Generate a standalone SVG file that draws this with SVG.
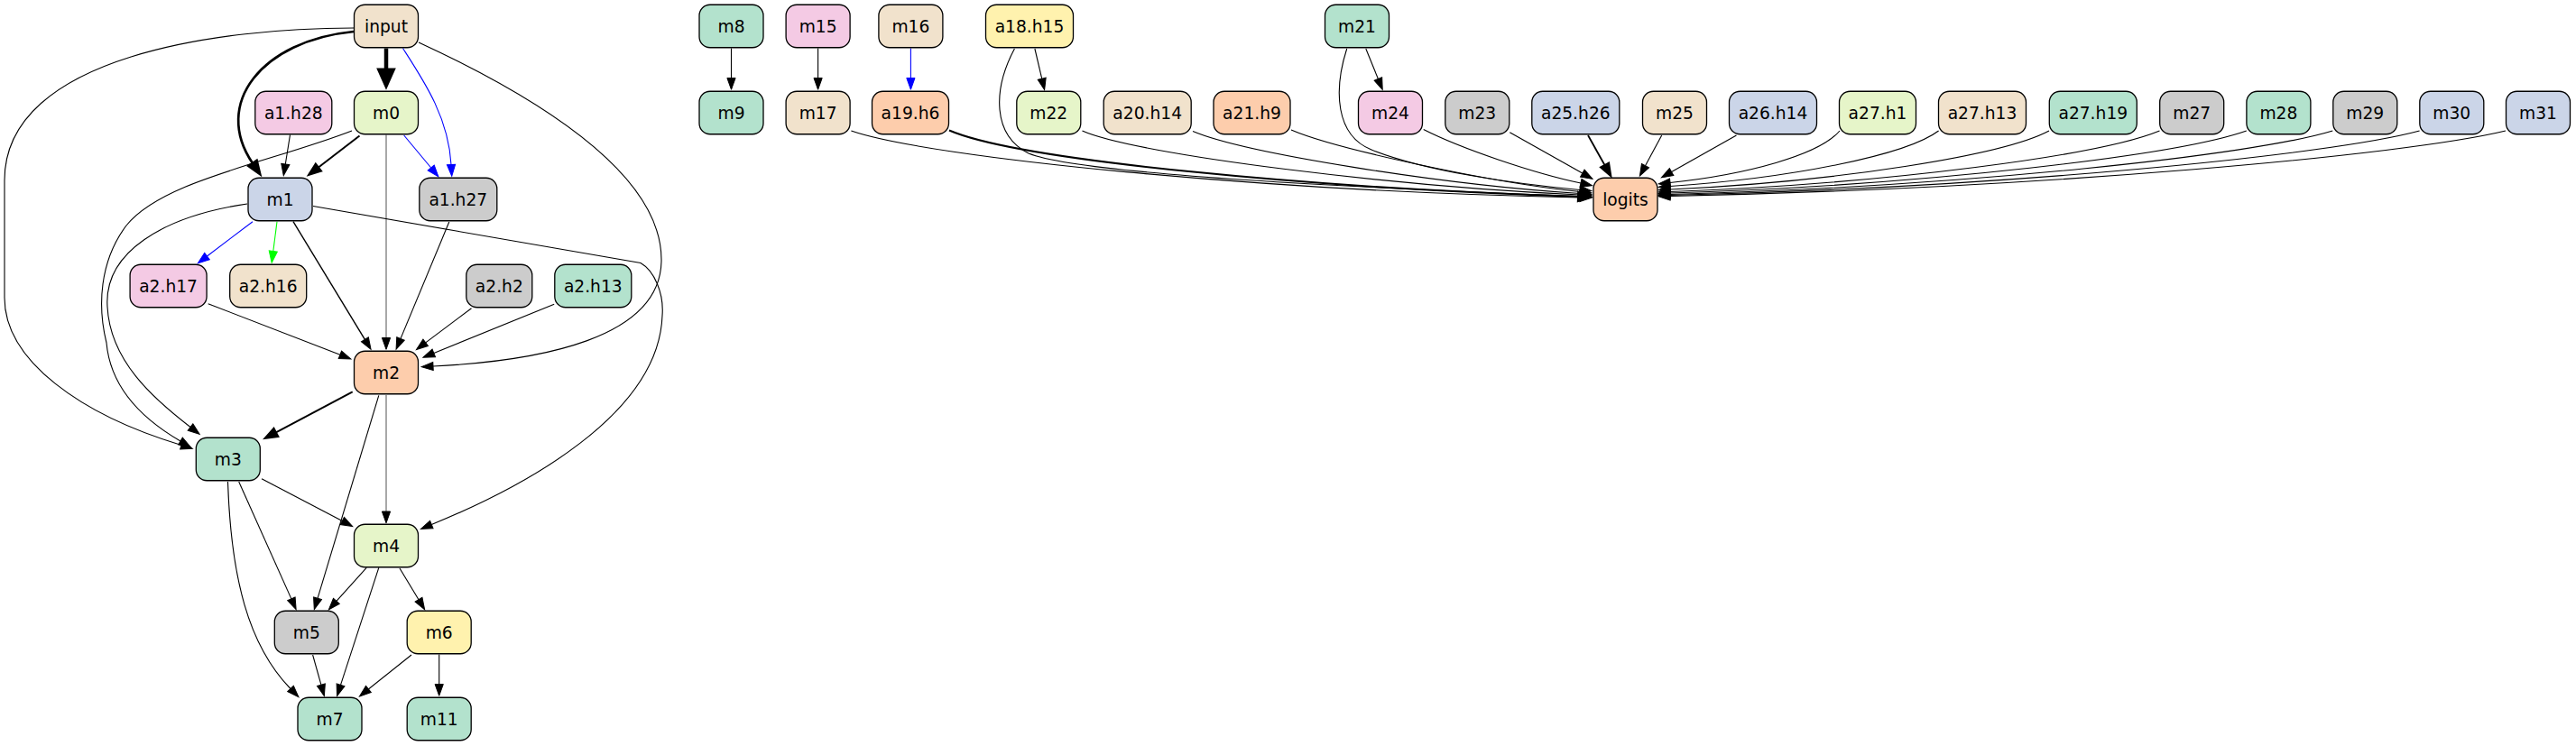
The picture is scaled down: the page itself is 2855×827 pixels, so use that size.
<svg xmlns="http://www.w3.org/2000/svg" width="2855" height="827" viewBox="0 0 2855 827">
<style>
.node rect{stroke:#000;stroke-width:1.3}
.node text{font-family:"DejaVu Sans","Liberation Sans",sans-serif;font-size:18.67px;text-anchor:middle;fill:#000}
.tan{fill:#f1e2cc}.lg{fill:#e6f5c9}.pk{fill:#f4cae4}.bl{fill:#cbd5e8}.gr{fill:#cccccc}.gn{fill:#b3e2cd}.or{fill:#fdcdac}.ye{fill:#fff2ae}
#edges path{fill:none;stroke:#000;stroke-width:1.1}
#edges .e{marker-end:url(#ah)}
#edges .blue{stroke:#0000ff;marker-end:url(#ahb)}
#edges .green{stroke:#00ff00;marker-end:url(#ahg)}
#edges .gray{stroke:#999999;stroke-width:1.7;marker-end:url(#ah)}
#edges .w2{stroke-width:2;marker-end:url(#ah2)}
#edges .w3{stroke-width:2.7;marker-end:url(#ah3)}
#edges .w5{stroke-width:4.5;marker-end:url(#ah5)}
</style>
<defs>
<marker id="ah" markerUnits="userSpaceOnUse" orient="auto" refX="0" refY="0" markerWidth="40" markerHeight="40" overflow="visible"><path d="M0,-4.6 L12.8,0 L0,4.6 Z" fill="#000" stroke="#000" stroke-width="1"/></marker>
<marker id="ahb" markerUnits="userSpaceOnUse" orient="auto" refX="0" refY="0" markerWidth="40" markerHeight="40" overflow="visible"><path d="M0,-4.6 L12.8,0 L0,4.6 Z" fill="#0000ff" stroke="#0000ff" stroke-width="1"/></marker>
<marker id="ahg" markerUnits="userSpaceOnUse" orient="auto" refX="0" refY="0" markerWidth="40" markerHeight="40" overflow="visible"><path d="M0,-4.6 L12.8,0 L0,4.6 Z" fill="#00ff00" stroke="#00ff00" stroke-width="1"/></marker>
<marker id="ah2" markerUnits="userSpaceOnUse" orient="auto" refX="0" refY="0" markerWidth="40" markerHeight="40" overflow="visible"><path d="M0,-5.2 L14,0 L0,5.2 Z" fill="#000" stroke="#000" stroke-width="2"/></marker>
<marker id="ah3" markerUnits="userSpaceOnUse" orient="auto" refX="0" refY="0" markerWidth="40" markerHeight="40" overflow="visible"><path d="M0,-5.5 L14.5,0 L0,5.5 Z" fill="#000" stroke="#000" stroke-width="2.7"/></marker>
<marker id="ah5" markerUnits="userSpaceOnUse" orient="auto" refX="0" refY="0" markerWidth="40" markerHeight="40" overflow="visible"><path d="M0,-8.5 L19,0 L0,8.5 Z" fill="#000" stroke="#000" stroke-width="3"/></marker>
</defs>
<rect width="2855" height="827" fill="#fff"/>
<g id="edges">
<path class="w5" d="M428,53.5 L428,77"/>
<path class="w3" d="M392,35 C290,45 235,115 280,181"/>
<path class="blue" d="M446.5,53.5 C470,90 497,130 500,182.5"/>
<path class="e" d="M392,31 C250,31 5,60 5,200 L5,330 C5,400 90,460 201,493.5"/>
<path class="e" d="M464,47 C600,110 735,195 733,290 C731,375 600,400 480,406"/>
<path class="e" d="M321.5,149.5 L316.3,182"/>
<path class="w2" d="M398.5,150.5 L353,185.5"/>
<path class="blue" d="M447.7,150 L477.7,186"/>
<path class="gray" d="M428,149.5 L428,374.5"/>
<path class="e" d="M390,145 C300,180 180,200 140,250 C110,290 108,340 118,380 C122,425 150,460 200,489"/>
<path class="e" d="M274,226 C180,240 115,280 119,340 C122,400 170,442 211,473.5"/>
<path class="blue" d="M280,245.7 L229.5,284"/>
<path class="green" d="M307,245.7 L302.8,278.5"/>
<path class="e" style="stroke-width:1.4" d="M325,245.7 L404.4,376.3"/>
<path class="e" d="M347,228.5 L710,291.5 C725,300 736,325 734,350 C730,460 580,540 478.3,581.5"/>
<path class="e" d="M497.8,246 L444,375.4"/>
<path class="e" d="M230.7,336.7 L376.9,393.3"/>
<path class="e" d="M522.5,341.7 L471.7,379.9"/>
<path class="e" d="M614.2,337.3 L480.8,391.4"/>
<path class="w2" d="M390.7,434.3 L305.9,479.4"/>
<path class="gray" d="M428,438 L428,567"/>
<path class="e" d="M419.8,438.3 L352,663.3"/>
<path class="e" d="M290,530.7 L379.3,577.5"/>
<path class="e" d="M264.7,534 L322.9,663.9"/>
<path class="e" d="M252.5,534 C256,640 275,715 322,763.5"/>
<path class="e" d="M406.2,629.3 L372.9,666.3"/>
<path class="e" d="M419.8,629.3 L377.5,759.4"/>
<path class="e" d="M443,630 L464,664.7"/>
<path class="e" d="M346.6,726 L355.9,759.2"/>
<path class="e" d="M456,726 L408.4,764"/>
<path class="e" d="M486.7,725.5 L486.7,758.5"/>
<path class="e" d="M810.5,53.5 L810.5,86.5"/>
<path class="e" d="M906.6,53.5 L906.6,86.5"/>
<path class="blue" d="M1009.4,53.5 L1009.4,86.5"/>
<path class="e" d="M1146.9,54 L1154.7,87.2"/>
<path class="e" d="M1513.8,54 L1527.4,87.5"/>
<path class="e" d="M1124.4,54 C1100,100 1100,150 1140,170 C1200,195 1550,210 1751,217.5"/>
<path class="e" d="M943.4,145 C1030,175 1400,212 1751,219"/>
<path class="w2" d="M1052,144.5 C1130,178 1450,208 1749,218"/>
<path class="e" d="M1199.5,145 C1260,172 1550,207 1751,216"/>
<path class="e" d="M1322,145.5 C1380,170 1600,205 1751,214.5"/>
<path class="e" d="M1431,144 C1480,165 1650,202 1751,212.5"/>
<path class="e" d="M1492.7,54 C1478,100 1480,150 1520,166 C1580,190 1680,204 1751,210.5"/>
<path class="e" d="M1577.7,143.5 C1620,165 1700,192 1752,203"/>
<path class="e" d="M1673.3,146.7 L1753.8,192.1"/>
<path class="w2" style="stroke-width:1.8" d="M1760,150 L1778.5,183"/>
<path class="e" d="M1841.7,150 L1823.5,183.7"/>
<path class="e" d="M1924.5,150 L1852.6,190.6"/>
<path class="e" d="M2039,145 C2016.4,172 1935.6,193.5 1851,202.5"/>
<path class="e" d="M2148.6,145 C2112.9,172 1985,197.5 1851,206.5"/>
<path class="e" d="M2271,145 C2220.6,172 2040,201 1851,210"/>
<path class="e" d="M2393.5,145 C2328.4,172 2095.1,203.5 1851,212.5"/>
<path class="e" d="M2489.8,145 C2413.1,172 2138.5,205 1851,214"/>
<path class="e" d="M2585.3,145 C2497.2,172 2181.4,206.5 1851,215.5"/>
<path class="e" d="M2681.6,145 C2581.9,172 2224.8,207.5 1851,216.5"/>
<path class="e" d="M2777,145 C2665.9,172 2267.7,208.5 1851,217.5"/>
</g>
<g id="n-input" class="node"><rect class="tan" x="392.5" y="5.25" width="71" height="47.5" rx="12"/><text x="428" y="35.5">input</text></g>
<g id="n-m0" class="node"><rect class="lg" x="392.5" y="101.25" width="71" height="47.5" rx="12"/><text x="428" y="131.5">m0</text></g>
<g id="n-a1h28" class="node"><rect class="pk" x="282.8" y="101.25" width="85" height="47.5" rx="12"/><text x="325.3" y="131.5">a1.h28</text></g>
<g id="n-m1" class="node"><rect class="bl" x="275" y="197.25" width="71" height="47.5" rx="12"/><text x="310.5" y="227.5">m1</text></g>
<g id="n-a1h27" class="node"><rect class="gr" x="464.8" y="197.25" width="86" height="47.5" rx="12"/><text x="507.8" y="227.5">a1.h27</text></g>
<g id="n-a2h17" class="node"><rect class="pk" x="144.1" y="293.25" width="85" height="47.5" rx="12"/><text x="186.6" y="323.5">a2.h17</text></g>
<g id="n-a2h16" class="node"><rect class="tan" x="254.7" y="293.25" width="85" height="47.5" rx="12"/><text x="297.2" y="323.5">a2.h16</text></g>
<g id="n-a2h2" class="node"><rect class="gr" x="516.8" y="293.25" width="73" height="47.5" rx="12"/><text x="553.3" y="323.5">a2.h2</text></g>
<g id="n-a2h13" class="node"><rect class="gn" x="614.8" y="293.25" width="85" height="47.5" rx="12"/><text x="657.3" y="323.5">a2.h13</text></g>
<g id="n-m2" class="node"><rect class="or" x="392.5" y="389.25" width="71" height="47.5" rx="12"/><text x="428" y="419.5">m2</text></g>
<g id="n-m3" class="node"><rect class="gn" x="217.3" y="485.25" width="71" height="47.5" rx="12"/><text x="252.8" y="515.5">m3</text></g>
<g id="n-m4" class="node"><rect class="lg" x="392.5" y="581.25" width="71" height="47.5" rx="12"/><text x="428" y="611.5">m4</text></g>
<g id="n-m5" class="node"><rect class="gr" x="304.3" y="677.25" width="71" height="47.5" rx="12"/><text x="339.8" y="707.5">m5</text></g>
<g id="n-m6" class="node"><rect class="ye" x="451.2" y="677.25" width="71" height="47.5" rx="12"/><text x="486.7" y="707.5">m6</text></g>
<g id="n-m7" class="node"><rect class="gn" x="330" y="773.25" width="71" height="47.5" rx="12"/><text x="365.5" y="803.5">m7</text></g>
<g id="n-m11" class="node"><rect class="gn" x="451.2" y="773.25" width="71" height="47.5" rx="12"/><text x="486.7" y="803.5">m11</text></g>
<g id="n-m8" class="node"><rect class="gn" x="775" y="5.25" width="71" height="47.5" rx="12"/><text x="810.5" y="35.5">m8</text></g>
<g id="n-m9" class="node"><rect class="gn" x="775" y="101.25" width="71" height="47.5" rx="12"/><text x="810.5" y="131.5">m9</text></g>
<g id="n-m15" class="node"><rect class="pk" x="871.1" y="5.25" width="71" height="47.5" rx="12"/><text x="906.6" y="35.5">m15</text></g>
<g id="n-m17" class="node"><rect class="tan" x="871.1" y="101.25" width="71" height="47.5" rx="12"/><text x="906.6" y="131.5">m17</text></g>
<g id="n-m16" class="node"><rect class="tan" x="973.9" y="5.25" width="71" height="47.5" rx="12"/><text x="1009.4" y="35.5">m16</text></g>
<g id="n-a19h6" class="node"><rect class="or" x="966.5" y="101.25" width="85" height="47.5" rx="12"/><text x="1009" y="131.5">a19.h6</text></g>
<g id="n-a18h15" class="node"><rect class="ye" x="1092.5" y="5.25" width="97" height="47.5" rx="12"/><text x="1141" y="35.5">a18.h15</text></g>
<g id="n-m21" class="node"><rect class="gn" x="1468.5" y="5.25" width="71" height="47.5" rx="12"/><text x="1504" y="35.5">m21</text></g>
<g id="n-m22" class="node"><rect class="lg" x="1126.8" y="101.25" width="71" height="47.5" rx="12"/><text x="1162.3" y="131.5">m22</text></g>
<g id="n-a20h14" class="node"><rect class="tan" x="1223.2" y="101.25" width="97" height="47.5" rx="12"/><text x="1271.7" y="131.5">a20.h14</text></g>
<g id="n-a21h9" class="node"><rect class="or" x="1345" y="101.25" width="85" height="47.5" rx="12"/><text x="1387.5" y="131.5">a21.h9</text></g>
<g id="n-m24" class="node"><rect class="pk" x="1505.5" y="101.25" width="71" height="47.5" rx="12"/><text x="1541" y="131.5">m24</text></g>
<g id="n-m23" class="node"><rect class="gr" x="1601.8" y="101.25" width="71" height="47.5" rx="12"/><text x="1637.3" y="131.5">m23</text></g>
<g id="n-a25h26" class="node"><rect class="bl" x="1697.8" y="101.25" width="97" height="47.5" rx="12"/><text x="1746.3" y="131.5">a25.h26</text></g>
<g id="n-logits" class="node"><rect class="or" x="1766" y="197.25" width="71" height="47.5" rx="12"/><text x="1801.5" y="227.5">logits</text></g>
<g id="n-m25" class="node"><rect class="tan" x="1820.5" y="101.25" width="71" height="47.5" rx="12"/><text x="1856" y="131.5">m25</text></g>
<g id="n-a26h14" class="node"><rect class="bl" x="1916.5" y="101.25" width="97" height="47.5" rx="12"/><text x="1965" y="131.5">a26.h14</text></g>
<g id="n-a27h1" class="node"><rect class="lg" x="2038.5" y="101.25" width="85" height="47.5" rx="12"/><text x="2081" y="131.5">a27.h1</text></g>
<g id="n-a27h13" class="node"><rect class="tan" x="2148.5" y="101.25" width="97" height="47.5" rx="12"/><text x="2197" y="131.5">a27.h13</text></g>
<g id="n-a27h19" class="node"><rect class="gn" x="2271.3" y="101.25" width="97" height="47.5" rx="12"/><text x="2319.8" y="131.5">a27.h19</text></g>
<g id="n-m27" class="node"><rect class="gr" x="2393.7" y="101.25" width="71" height="47.5" rx="12"/><text x="2429.2" y="131.5">m27</text></g>
<g id="n-m28" class="node"><rect class="gn" x="2489.9" y="101.25" width="71" height="47.5" rx="12"/><text x="2525.4" y="131.5">m28</text></g>
<g id="n-m29" class="node"><rect class="gr" x="2585.8" y="101.25" width="71" height="47.5" rx="12"/><text x="2621.3" y="131.5">m29</text></g>
<g id="n-m30" class="node"><rect class="bl" x="2681.8" y="101.25" width="71" height="47.5" rx="12"/><text x="2717.3" y="131.5">m30</text></g>
<g id="n-m31" class="node"><rect class="bl" x="2777.5" y="101.25" width="71" height="47.5" rx="12"/><text x="2813" y="131.5">m31</text></g>
</svg>
